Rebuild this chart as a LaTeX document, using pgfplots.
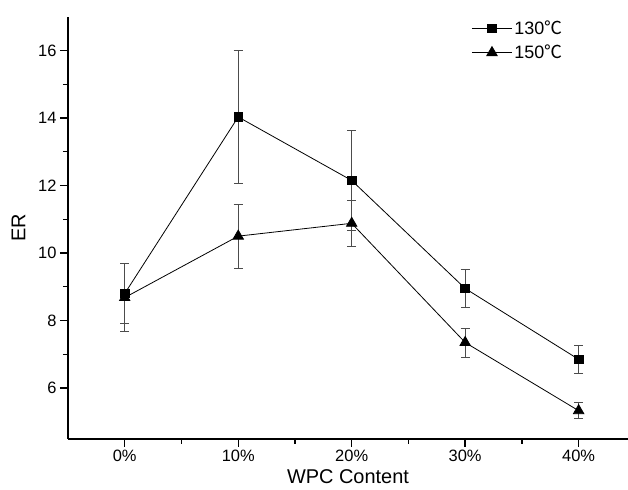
\documentclass[border=0pt]{standalone}
\usepackage{fontspec}
\setmainfont{Liberation Sans}
\newfontfamily\cjk{Noto Sans CJK SC}
\usepackage{pgfplots}
\pgfplotsset{compat=1.18}

\begin{document}
\begin{tikzpicture}
\path[use as bounding box] (-68bp,-51.3bp) rectangle (560bp,438.7bp);
\begin{axis}[
  scale only axis, width=560bp, height=422bp,
  xmin=-0.5, xmax=4.435, ymin=4.5, ymax=17,
  axis lines*=left,
  axis line style={line width=1.6bp},
  tick style={line width=1.4bp, black},
  tick align=outside,
  major tick length=8bp, minor tick length=5bp,
  xtick={0,1,2,3,4},
  xticklabels={0\%,10\%,20\%,30\%,40\%},
  ytick={6,8,10,12,14,16},
  minor x tick num=1, minor y tick num=1,
  /pgf/number format/assume math mode=true,
  ticklabel style={font=\fontsize{16.5}{19}\selectfont},
  label style={font=\fontsize{20}{23}\selectfont},
  xlabel={WPC Content}, ylabel={ER},
  xlabel style={yshift=-3.5bp, inner sep=1bp},
  ylabel style={yshift=6bp},
  clip=false,
  legend cell align=left,
  legend style={at={(0.715,1.0)}, anchor=north west, draw=none, fill=none,
    font=\fontsize{18}{21}\selectfont, row sep=5bp,
    /tikz/every even column/.append style={column sep=4bp}},
  legend image code/.code={
    \draw[#1, mark repeat=2, mark phase=2]
      plot coordinates {(0bp,0bp) (20bp,0bp) (40bp,0bp)};},
  error bars/error bar style={line width=0.9bp, black!70},
  error bars/error mark options={rotate=90, mark size=4.5bp, line width=0.9bp, black!70},
]
\addplot[black, line width=0.8bp, mark=square*, mark size=4.3bp,
  error bars/.cd, y dir=both, y explicit]
coordinates {
  (0, 8.80) +- (0, 0.90)
  (1, 14.03) +- (0, 1.98)
  (2, 12.15) +- (0, 1.47)
  (3, 8.95) +- (0, 0.55)
  (4, 6.85) +- (0, 0.42)
};
\addlegendentry{130{\cjk ℃}}
\addplot[black, line width=0.8bp, mark=triangle*, mark size=6bp,
  error bars/.cd, y dir=both, y explicit]
coordinates {
  (0, 8.68) +- (0, 1.00)
  (1, 10.50) +- (0, 0.95)
  (2, 10.88) +- (0, 0.68)
  (3, 7.35) +- (0, 0.43)
  (4, 5.33) +- (0, 0.23)
};
\addlegendentry{150{\cjk ℃}}
\end{axis}
\end{tikzpicture}
\end{document}
